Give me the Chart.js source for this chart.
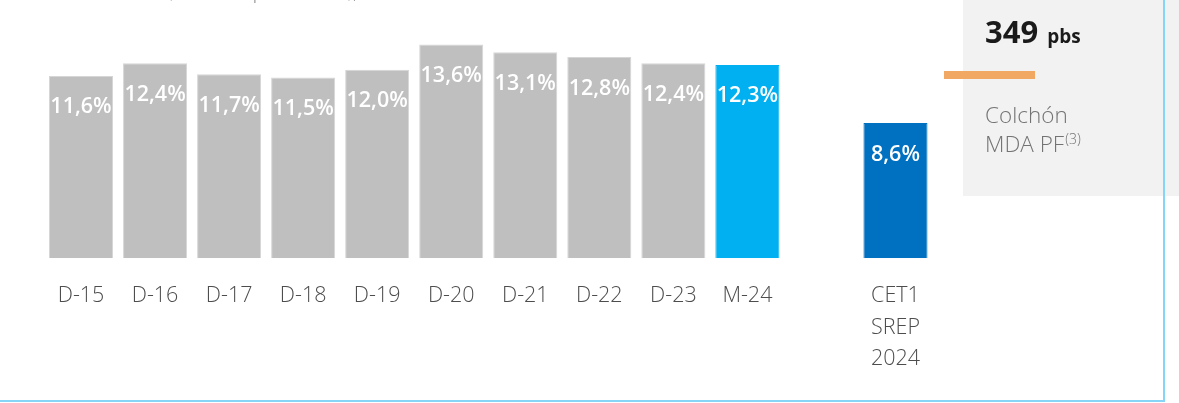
<!DOCTYPE html>
<html>
<head>
<meta charset="utf-8">
<style>
  html, body { margin: 0; padding: 0; background: #ffffff; }
  #wrap { width: 1179px; height: 403px; position: relative; overflow: hidden; }
  canvas { display: block; }
</style>
<script src="https://cdn.jsdelivr.net/npm/chart.js@4.4.1/dist/chart.umd.min.js"></script>
</head>
<body>
<div id="wrap"><canvas id="c" width="1179" height="403"></canvas></div>
<script>
// ---- data ----
const categories = ['D-15', 'D-16', 'D-17', 'D-18', 'D-19', 'D-20', 'D-21', 'D-22', 'D-23', 'M-24', '', ['CET1', 'SREP', '2024']];
const cet1Values = [11.6, 12.4, 11.7, 11.5, 12.0, 13.6, 13.1, 12.8, 12.4, 12.3, null, 8.6];
const valueLabels = ['11,6%', '12,4%', '11,7%', '11,5%', '12,0%', '13,6%', '13,1%', '12,8%', '12,4%', '12,3%', '', '8,6%'];
const barKinds = ['hist', 'hist', 'hist', 'hist', 'hist', 'hist', 'hist', 'hist', 'hist', 'current', 'none', 'srep'];
const bufferValue = ['349', 'pbs'];
const bufferLabel = ['Colchón', 'MDA PF', '(3)'];
const titleText = '(en base pro forma), %';

const kindColor = { hist: '#bfbfbf', current: '#00b0f0', srep: '#0070c0', none: 'rgba(0,0,0,0)' };
const kindBorder = { hist: '#d6d6d6', current: '#00b0f0', srep: '#0070c0', none: 'rgba(0,0,0,0)' };

const FONT = '"Open Sans", "Noto Sans", "DejaVu Sans", sans-serif';

// background decorations (panel, border, title fragment)
const decorPlugin = {
  id: 'decor',
  beforeDraw(chart) {
    const ctx = chart.ctx;
    ctx.save();
    // grey info panel
    ctx.fillStyle = '#f2f2f2';
    ctx.fillRect(963, 0, 216, 196);
    // clipped title fragment at the top
    ctx.fillStyle = '#8c8c8c';
    ctx.font = '300 21px ' + FONT;
    ctx.textAlign = 'left';
    ctx.textBaseline = 'alphabetic';
    ctx.fillText(titleText, 167, -2);
    ctx.restore();
  },
  afterDraw(chart) {
    const ctx = chart.ctx;
    ctx.save();
    // orange marker line
    ctx.fillStyle = '#f0a862';
    ctx.fillRect(944, 71, 91, 8);
    // buffer value
    ctx.fillStyle = '#1a1a1a';
    ctx.textAlign = 'left';
    ctx.textBaseline = 'alphabetic';
    ctx.font = '700 31px ' + FONT;
    ctx.fillText(bufferValue[0], 985, 43);
    const w = ctx.measureText(bufferValue[0]).width;
    ctx.font = '700 19px ' + FONT;
    ctx.fillText(bufferValue[1], 985 + w + 9, 43);
    // buffer label
    ctx.fillStyle = '#737373';
    ctx.font = '300 22.5px ' + FONT;
    ctx.fillText(bufferLabel[0], 985, 123);
    ctx.fillText(bufferLabel[1], 985, 152);
    const w2 = ctx.measureText(bufferLabel[1]).width;
    ctx.font = '300 14px ' + FONT;
    ctx.fillText(bufferLabel[2], 985 + w2 + 1, 144);
    // light blue frame
    ctx.fillStyle = '#86d4f6';
    ctx.fillRect(1163, 0, 2, 402);
    ctx.fillRect(0, 400, 1165, 2);
    ctx.restore();
  }
};

// value labels inside the bars
const valueLabelPlugin = {
  id: 'valueLabels',
  afterDatasetsDraw(chart) {
    const ctx = chart.ctx;
    const meta = chart.getDatasetMeta(0);
    ctx.save();
    ctx.fillStyle = '#ffffff';
    ctx.font = '600 21.5px ' + FONT;
    ctx.textAlign = 'center';
    ctx.textBaseline = 'alphabetic';
    meta.data.forEach((el, i) => {
      if (cet1Values[i] === null) return;
      ctx.fillText(valueLabels[i], el.x, el.y + 37.5);
    });
    ctx.restore();
  }
};

new Chart(document.getElementById('c'), {
  type: 'bar',
  data: {
    labels: categories,
    datasets: [{
      data: cet1Values,
      backgroundColor: barKinds.map(k => kindColor[k]),
      borderColor: barKinds.map(k => kindBorder[k]),
      borderWidth: 1,
      barPercentage: 0.865,
      categoryPercentage: 1.0
    }]
  },
  options: {
    responsive: false,
    animation: false,
    devicePixelRatio: 1,
    layout: { padding: { left: 44, right: 246.5, top: 0, bottom: 0 } },
    plugins: {
      legend: { display: false },
      tooltip: { enabled: false },
      title: { display: false }
    },
    scales: {
      y: {
        display: false,
        min: 0,
        max: 16.43
      },
      x: {
        grid: { display: false, drawTicks: false },
        border: { display: false },
        ticks: {
          color: '#4d4d4d',
          font: { family: FONT, size: 21.5, weight: '300', lineHeight: 1.47 },
          padding: 22,
          maxRotation: 0,
          minRotation: 0,
          autoSkip: false
        },
        afterFit(scale) { scale.height = 144.7; }
      }
    }
  },
  plugins: [decorPlugin, valueLabelPlugin]
});
</script>
</body>
</html>
